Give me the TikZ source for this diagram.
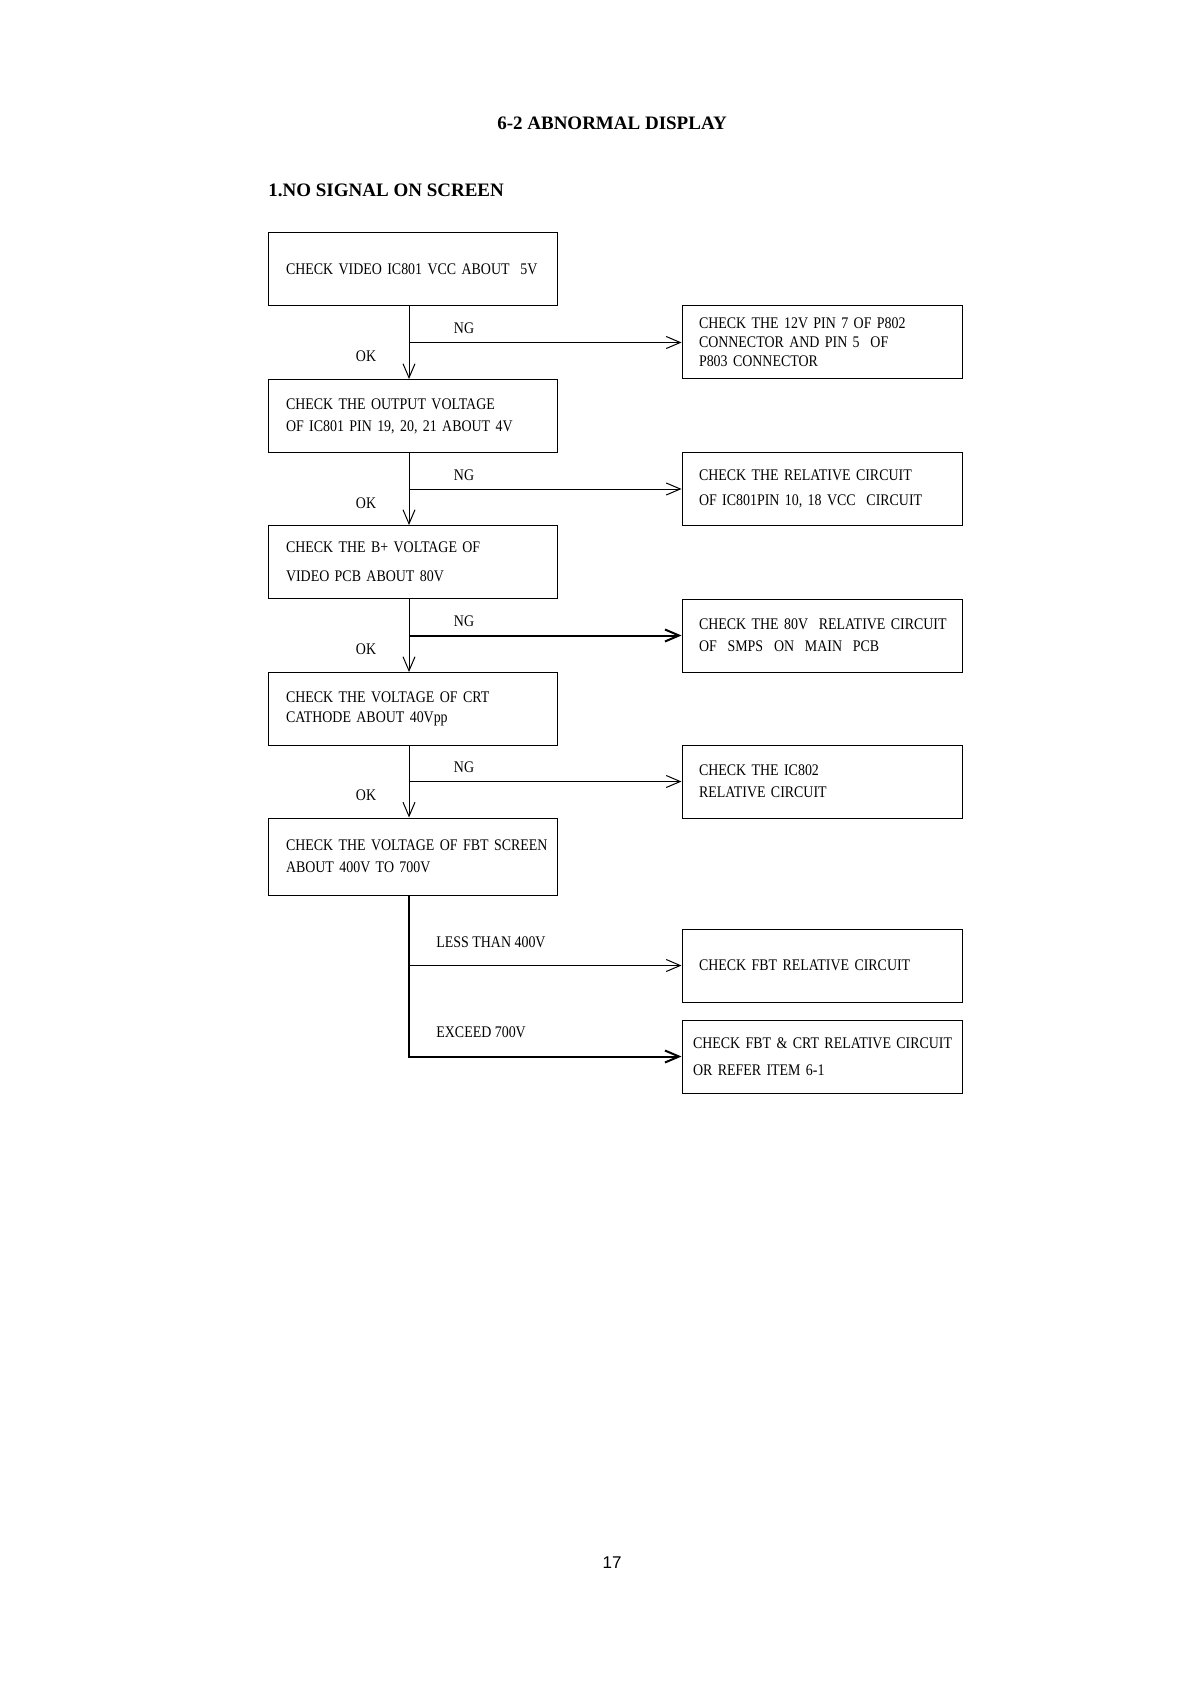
\documentclass[tikz,border=0pt]{standalone}
\usepackage{fontspec}
\setmainfont{Liberation Serif}
\newfontfamily\chkfont[FakeStretch=0.86]{Liberation Serif}
\newfontfamily\pagefont{Liberation Sans}
\usetikzlibrary{arrows.meta}
\tikzset{
  chk/.style={draw, line width=0.5pt, minimum width=144.5pt, minimum height=36.5pt,
    inner xsep=9pt, text width=126.5pt, align=left,
    font=\chkfont\fontsize{8.1}{11}\selectfont},
  res/.style={chk, minimum width=140pt, inner xsep=8.5pt, text width=123pt},
  lab/.style={font=\chkfont\fontsize{8.1}{11}\selectfont, inner sep=0pt},
  flow/.style={line width=0.5pt, -{Straight Barb[length=7pt,width=6pt]}},
}
\begin{document}
\begin{tikzpicture}[x=0.5pt, y=-0.5pt]
\useasboundingbox (0,0) rectangle (1191,1684);
% Headings and page number
\node[font=\bfseries\fontsize{9.5}{11}\selectfont] (title) at (612,123) {6-2 ABNORMAL DISPLAY};
\node[font=\bfseries\fontsize{9.5}{11}\selectfont, anchor=west, inner sep=0pt] (sect) at (268,190) {1.NO SIGNAL ON SCREEN};
\node[font=\pagefont\fontsize{8.5}{10}\selectfont] (page) at (612,1563) {17};
% Checks down the left
\node[chk] (c1) at (412.5,269.5) {\mbox{CHECK VIDEO IC801 VCC ABOUT\ \ 5V}};
\node[chk] (c2) at (412.5,416) {CHECK THE OUTPUT VOLTAGE\\\mbox{OF IC801 PIN 19, 20, 21 ABOUT 4V}};
\node[chk] (c3) at (412.5,562) {CHECK THE B+ VOLTAGE OF\\[3.5pt]VIDEO PCB ABOUT 80V};
\node[chk] (c4) at (412.5,709) {CHECK THE VOLTAGE OF CRT\\[-1pt]CATHODE ABOUT 40Vpp};
\node[chk, minimum height=38.5pt] (c5) at (412.5,856.5) {\mbox{CHECK THE VOLTAGE OF FBT SCREEN}\\ABOUT 400V TO 700V};
% Remedies on the right
\node[res] (r1) at (822,342.5) {CHECK THE 12V PIN 7 OF P802\\[-1.5pt]CONNECTOR AND PIN 5\ \ OF\\[-1.5pt]P803 CONNECTOR};
\node[res] (r2) at (822,489) {CHECK THE RELATIVE CIRCUIT\\[1.5pt]\mbox{OF IC801PIN 10, 18 VCC\ \ CIRCUIT}};
\node[res] (r3) at (822,635.5) {\mbox{CHECK THE 80V\ \ RELATIVE CIRCUIT}\\OF\ \ SMPS\ \ ON\ \ MAIN\ \ PCB};
\node[res] (r4) at (822,781.5) {CHECK THE IC802\\RELATIVE CIRCUIT};
\node[res] (r5) at (822,965.5) {CHECK FBT RELATIVE CIRCUIT};
\node[res, inner xsep=5.5pt, text width=129pt] (r6) at (822,1056.5) {\mbox{CHECK FBT \& CRT RELATIVE CIRCUIT}\\[2.5pt]OR REFER ITEM 6-1};
% OK down, NG across
\foreach \a/\b/\r/\w [count=\i] in {c1/c2/r1/0.5pt, c2/c3/r2/0.5pt, c3/c4/r3/1pt, c4/c5/r4/0.5pt} {
  \draw[flow] ([xshift=-1.75pt]\a.south) -- ([xshift=-1.75pt]\b.north);
  \draw[flow, line width=\w] ([xshift=-1.75pt]\a.south |- \r.west) -- (\r.west);
  \node[lab] (ng\i) at ([xshift=25.75pt, yshift=7pt]\a.south |- \r.west) {NG};
  \node[lab] (ok\i) at ([xshift=-23.25pt, yshift=-7pt]\a.south |- \r.west) {OK};
}
% Screen voltage out of range
\draw[flow, line width=1pt] ([xshift=-1.75pt]c5.south) |- (r6.west);
\draw[flow] ([xshift=-1.75pt]c5.south |- r5.west) -- (r5.west);
\node[lab, anchor=west] (less) at ([xshift=11.75pt, yshift=11.5pt]c5.south |- r5.west) {LESS THAN 400V};
\node[lab, anchor=west] (exceed) at ([xshift=11.75pt, yshift=12.25pt]c5.south |- r6.west) {EXCEED 700V};
\end{tikzpicture}
\end{document}
